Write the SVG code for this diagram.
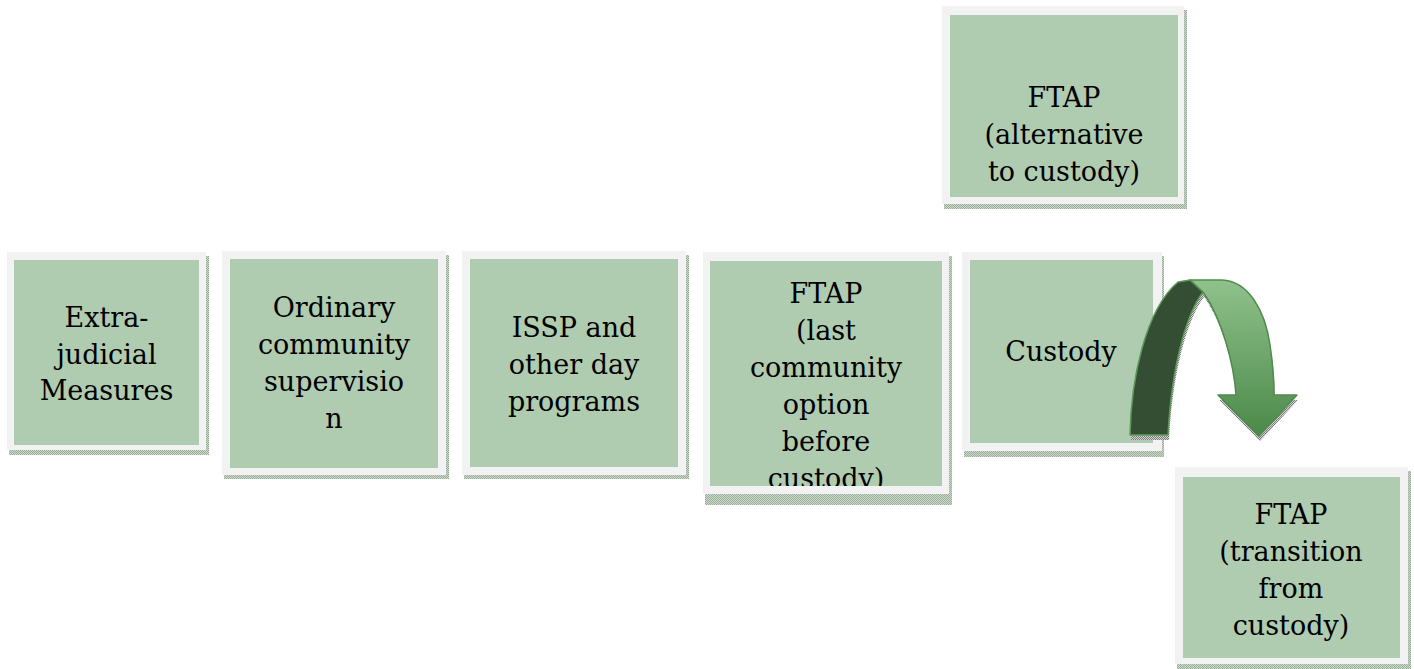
<svg xmlns="http://www.w3.org/2000/svg" width="1414" height="669" viewBox="0 0 1414 669">
  <defs>
    <style>
      .frame { fill: #f2f2f2; }
      .card { fill: #afcbb0; }
      .drop { fill: url(#dotsGreen); }
      .label { font-family: "DejaVu Serif", "Liberation Serif", serif; font-size: 27px; fill: #000; text-anchor: middle; }
    </style>
    <pattern id="dotsGreen" width="2" height="2" patternUnits="userSpaceOnUse">
      <rect width="2" height="2" fill="#cdd8cc"/>
      <rect width="1" height="1" fill="#9bae9a"/>
      <rect x="1" y="1" width="1" height="1" fill="#9bae9a"/>
    </pattern>
    <pattern id="dotsGrey" width="2" height="2" patternUnits="userSpaceOnUse">
      <rect width="2" height="2" fill="#d2d2d2"/>
      <rect width="1" height="1" fill="#7d7d7d"/>
      <rect x="1" y="1" width="1" height="1" fill="#7d7d7d"/>
    </pattern>
    <linearGradient id="frontFace" x1="0" y1="280" x2="0" y2="437" gradientUnits="userSpaceOnUse">
      <stop offset="0" stop-color="#90c18c"/>
      <stop offset="1" stop-color="#4a8948"/>
    </linearGradient>
    <clipPath id="clipLastOption">
      <rect x="710" y="261" width="232" height="225"/>
    </clipPath>
  </defs>

  <!-- Extra-judicial measures -->
  <g id="node-extrajudicial">
    <rect class="drop" x="9" y="256" width="200" height="199"/>
    <rect class="frame" x="7" y="252" width="199" height="198"/>
    <rect class="card" x="14" y="260" width="185" height="185"/>
    <text class="label" x="106.5" y="327">Extra-</text>
    <text class="label" x="106.5" y="364">judicial</text>
    <text class="label" x="106.5" y="400">Measures</text>
  </g>

  <!-- Ordinary community supervision -->
  <g id="node-ordinary">
    <rect class="drop" x="224" y="255" width="225" height="224"/>
    <rect class="frame" x="222" y="251" width="224" height="224"/>
    <rect class="card" x="230" y="259" width="208" height="209"/>
    <text class="label" x="334" y="317">Ordinary</text>
    <text class="label" x="334" y="354">community</text>
    <text class="label" x="334" y="391">supervisio</text>
    <text class="label" x="334" y="428">n</text>
  </g>

  <!-- ISSP and other day programs -->
  <g id="node-issp">
    <rect class="drop" x="464" y="255" width="225" height="224"/>
    <rect class="frame" x="462" y="251" width="224" height="224"/>
    <rect class="card" x="470" y="259" width="208" height="208"/>
    <text class="label" x="574" y="337">ISSP and</text>
    <text class="label" x="574" y="374">other day</text>
    <text class="label" x="574" y="411">programs</text>
  </g>

  <!-- FTAP, last community option -->
  <g id="node-ftap-last">
    <rect class="drop" x="705" y="256" width="247" height="249"/>
    <rect class="frame" x="703" y="252" width="246" height="242"/>
    <rect class="card" x="710" y="261" width="232" height="225"/>
    <g clip-path="url(#clipLastOption)">
      <text class="label" x="826" y="303">FTAP</text>
      <text class="label" x="826" y="340">(last</text>
      <text class="label" x="826" y="377">community</text>
      <text class="label" x="826" y="414">option</text>
      <text class="label" x="826" y="451">before</text>
      <text class="label" x="826" y="488">custody)</text>
    </g>
  </g>

  <!-- Custody -->
  <g id="node-custody">
    <rect class="drop" x="964" y="256" width="200" height="201"/>
    <rect class="frame" x="962" y="252" width="200" height="199"/>
    <rect class="card" x="970" y="260" width="183" height="183"/>
    <text class="label" x="1061" y="361">Custody</text>
  </g>

  <!-- FTAP, alternative to custody -->
  <g id="node-ftap-alternative">
    <rect class="drop" x="944" y="10" width="243" height="199"/>
    <rect class="frame" x="942" y="6" width="242" height="198"/>
    <rect class="card" x="950" y="15" width="228" height="182"/>
    <text class="label" x="1064" y="107">FTAP</text>
    <text class="label" x="1064" y="144">(alternative</text>
    <text class="label" x="1064" y="181">to custody)</text>
  </g>

  <!-- FTAP, transition from custody -->
  <g id="node-ftap-transition">
    <rect class="drop" x="1177" y="471" width="234" height="198"/>
    <rect class="frame" x="1175" y="467" width="233" height="197"/>
    <rect class="card" x="1183" y="477" width="217" height="181"/>
    <text class="label" x="1291" y="524">FTAP</text>
    <text class="label" x="1291" y="561">(transition</text>
    <text class="label" x="1291" y="598">from</text>
    <text class="label" x="1291" y="635">custody)</text>
  </g>

  <!-- Curved arrow from custody down to transition -->
  <g id="connectors">
    <g transform="translate(1,5)" fill="url(#dotsGrey)">
      <path d="M1130,435 C1131,380 1145,310 1178,282 L1190,280 L1203,292 C1188,312 1172,360 1168,435 Z"/>
      <path d="M1190,280 L1222,280 C1248,281 1265,310 1270,345 C1273,365 1274,380 1274,395 L1297,395 L1259,436 L1218,395 L1236,395 C1234,365 1222,318 1203,292 Z"/>
    </g>
    <path d="M1130,435 C1131,380 1145,310 1178,282 L1190,280 L1203,292 C1188,312 1172,360 1168,435 Z" fill="#344e33" stroke="#5d9a59" stroke-width="1.5" stroke-linejoin="round"/>
    <path d="M1190,280 L1222,280 C1248,281 1265,310 1270,345 C1273,365 1274,380 1274,395 L1297,395 L1259,436 L1218,395 L1236,395 C1234,365 1222,318 1203,292 Z" fill="url(#frontFace)" stroke="#4f8c4c" stroke-width="1.5" stroke-linejoin="round"/>
  </g>
</svg>
